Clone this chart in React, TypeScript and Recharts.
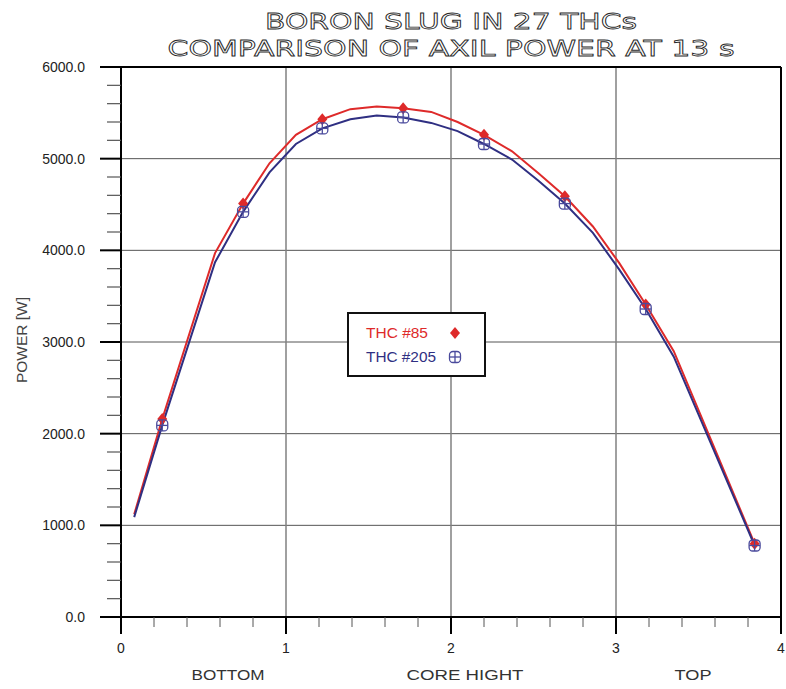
import { LineChart, Line, XAxis, YAxis, ReferenceLine } from 'recharts';

const CORE_HEIGHT = [0.08, 0.25, 0.57, 0.74, 0.9, 1.06, 1.22, 1.39, 1.55, 1.71, 1.88, 2.04, 2.2, 2.37, 2.53, 2.69, 2.86, 3.02, 3.18, 3.35, 3.84];
const THC_85 = [1120, 2160, 3970, 4510, 4950, 5260, 5430, 5540, 5570, 5550, 5510, 5400, 5260, 5080, 4840, 4590, 4260, 3860, 3410, 2900, 800];
const THC_205 = [1090, 2090, 3870, 4420, 4850, 5160, 5330, 5430, 5470, 5450, 5390, 5300, 5160, 4990, 4760, 4510, 4190, 3790, 3360, 2840, 780];
const MARKED_AT = [0.25, 0.74, 1.22, 1.71, 2.2, 2.69, 3.18, 3.84];

const SERIES_NAMES = ['THC #85', 'THC #205'];
const TITLE = ['BORON SLUG IN 27 THCs', 'COMPARISON OF AXIL POWER AT 13 s'];
const X_TICKS = [0, 0.2, 0.4, 0.6, 0.8, 1, 1.2, 1.4, 1.6, 1.8, 2, 2.2, 2.4, 2.6, 2.8, 3, 3.2, 3.4, 3.6, 3.8, 4];
const Y_TICKS = [0, 200, 400, 600, 800, 1000, 1200, 1400, 1600, 1800, 2000, 2200, 2400, 2600, 2800, 3000,
  3200, 3400, 3600, 3800, 4000, 4200, 4400, 4600, 4800, 5000, 5200, 5400, 5600, 5800, 6000];
const X_GRID = [1, 2, 3];
const Y_GRID = [1000, 2000, 3000, 4000, 5000];
const X_SECTIONS = ['BOTTOM', 'CORE HIGHT', 'TOP'];

const RED = '#de2a2a';
const BLUE = '#2f2f82';

const data = CORE_HEIGHT.map((x, i) => ({
  x,
  thc85: THC_85[i],
  thc205: THC_205[i],
  mark: MARKED_AT.includes(x),
}));

const isMajor = (v: number, step: number) => Math.abs(v / step - Math.round(v / step)) < 1e-6;

const font = '"Liberation Sans", Arial, sans-serif';

function Diamond({ cx, cy }: { cx: number; cy: number }) {
  return <path d={`M${cx},${cy - 6} L${cx + 5},${cy} L${cx},${cy + 6} L${cx - 5},${cy} Z`} fill={RED} />;
}

function CrossCircle({ cx, cy }: { cx: number; cy: number }) {
  return (
    <g fill="none" stroke="#4a4a9c" strokeWidth={1.3}>
      <rect x={cx - 5.5} y={cy - 5.5} width={11} height={11} rx={3.5} />
      <line x1={cx - 5.5} y1={cy} x2={cx + 5.5} y2={cy} />
      <line x1={cx} y1={cy - 5.5} x2={cx} y2={cy + 5.5} />
    </g>
  );
}

const redDot = (p: any) =>
  p.payload.mark ? <Diamond key={p.index} cx={p.cx} cy={p.cy} /> : <g key={p.index} />;
const blueDot = (p: any) =>
  p.payload.mark ? <CrossCircle key={p.index} cx={p.cx} cy={p.cy} /> : <g key={p.index} />;

function XTick({ x, y, payload }: any) {
  const v = payload.value;
  const major = isMajor(v, 1);
  return (
    <g>
      <line x1={x} y1={y} x2={x} y2={y + (major ? 17 : 10)} stroke={major ? '#000' : '#555'} strokeWidth={major ? 2 : 1} />
      {major && (
        <text x={x} y={y + 36} textAnchor="middle" fontFamily={font} fontSize={14} fill="#222">
          {v}
        </text>
      )}
    </g>
  );
}

function YTick({ x, y, payload }: any) {
  const v = payload.value;
  const major = isMajor(v, 1000);
  return (
    <g>
      <line x1={x - (major ? 21 : 14)} y1={y} x2={x} y2={y} stroke={major ? '#000' : '#555'} strokeWidth={major ? 2 : 1.2} />
      {major && (
        <text x={x - 36} y={y + 5} textAnchor="end" fontFamily={font} fontSize={14} fill="#222">
          {v.toFixed(1)}
        </text>
      )}
    </g>
  );
}

export default function App() {
  return (
    <div style={{ position: 'absolute', left: 0, top: 0, width: 786, height: 689, background: '#fff' }}>
      <LineChart width={786} height={689} data={data} margin={{ top: 67, right: 5, bottom: 0, left: 0 }}>
        {Y_GRID.map((v) => (
          <ReferenceLine key={`h${v}`} y={v} stroke="#555" strokeWidth={1} />
        ))}
        {X_GRID.map((v) => (
          <ReferenceLine key={`v${v}`} x={v} stroke="#808080" strokeWidth={1.5} />
        ))}
        <ReferenceLine y={6000} stroke="#000" strokeWidth={2} />
        <ReferenceLine x={4} stroke="#000" strokeWidth={2} />
        <XAxis
          dataKey="x"
          type="number"
          domain={[0, 4]}
          ticks={X_TICKS}
          interval={0}
          height={72}
          tickSize={0}
          tickMargin={0}
          tickLine={false}
          axisLine={{ stroke: '#000', strokeWidth: 2 }}
          tick={<XTick />}
        />
        <YAxis
          type="number"
          domain={[0, 6000]}
          ticks={Y_TICKS}
          interval={0}
          width={121}
          tickSize={0}
          tickMargin={0}
          tickLine={false}
          axisLine={{ stroke: '#000', strokeWidth: 2 }}
          tick={<YTick />}
        />
        <Line dataKey="thc85" name={SERIES_NAMES[0]} stroke={RED} strokeWidth={2} dot={redDot} activeDot={false} isAnimationActive={false} />
        <Line dataKey="thc205" name={SERIES_NAMES[1]} stroke={BLUE} strokeWidth={2} dot={blueDot} activeDot={false} isAnimationActive={false} />
      </LineChart>

      <svg width={786} height={689} style={{ position: 'absolute', left: 0, top: 0, pointerEvents: 'none' }}>
        <g fontFamily='"DejaVu Sans", sans-serif' fontSize={22} fill="none" stroke="#2a2a2a" strokeWidth={0.8}>
          <text x={451} y={29} textAnchor="middle" textLength={372} lengthAdjust="spacingAndGlyphs">{TITLE[0]}</text>
          <text x={451} y={56} textAnchor="middle" textLength={567} lengthAdjust="spacingAndGlyphs">{TITLE[1]}</text>
        </g>

        <text transform="translate(27,340) rotate(-90)" textAnchor="middle" fontFamily={font} fontSize={14} fill="#444" textLength={86} lengthAdjust="spacingAndGlyphs">
          POWER [W]
        </text>

        <g fontFamily={font} fontSize={14} fill="#333">
          <text x={228} y={680} textAnchor="middle" textLength={73} lengthAdjust="spacingAndGlyphs">{X_SECTIONS[0]}</text>
          <text x={465} y={680} textAnchor="middle" textLength={117} lengthAdjust="spacingAndGlyphs">{X_SECTIONS[1]}</text>
          <text x={693} y={680} textAnchor="middle" textLength={37} lengthAdjust="spacingAndGlyphs">{X_SECTIONS[2]}</text>
        </g>

        <rect x={348} y={313} width={137} height={63} fill="#fff" stroke="#111" strokeWidth={2} />
        <text x={366} y={338} fontFamily={font} fontSize={14} fill={RED} textLength={62} lengthAdjust="spacingAndGlyphs">{SERIES_NAMES[0]}</text>
        <Diamond cx={455} cy={333} />
        <text x={366} y={362} fontFamily={font} fontSize={14} fill={BLUE} textLength={70} lengthAdjust="spacingAndGlyphs">{SERIES_NAMES[1]}</text>
        <CrossCircle cx={455} cy={357} />
      </svg>
    </div>
  );
}
